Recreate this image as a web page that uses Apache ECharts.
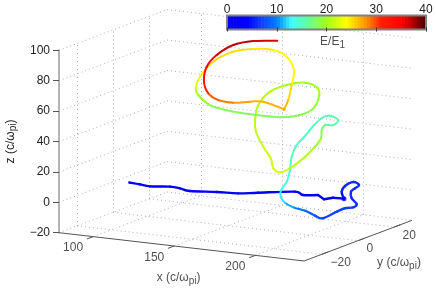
<!DOCTYPE html>
<html><head><meta charset="utf-8">
<style>html,body{margin:0;padding:0;background:#fff}#c{width:436px;height:293px}</style>
<script src="https://cdn.jsdelivr.net/npm/echarts@6/dist/echarts.min.js"></script>
</head><body><div id="c"></div>
<script>
const xTicks=[100,150,200];
const yTicks=[-20,0,20];
const zTicks=[-20,0,20,40,60,80,100];
const cbTicks=[0,10,20,30,40];
const xRange=[79,230], yRange=[-30,30], zRange=[-20,100];
// trajectory: horizontal projected position, height on the z scale (as seen), energy
const trajH=[129.3,140,150,170,180,190,216.7,238,258,294.7,303,318,324,333,344,
341.7,345,353.3,359,355,351,351.7,356.7,353.3,345,336.7,322.7,315,305,293.3,285,280.7,281,286.7,290,291.7,296.7,305,313.3,321.7,330,338.3,333.3,325,321.7,321,315,303.3,290,280,273.3,270.7,263.3,256,255,258.3,270,286.7,305,316.7,319.3,313.3,300,283.3,256.7,230,210,198.3,195.7,200,213.3,233.3,253.3,273.3,286.7,294,291.7,288.3,284,263.3,250,233.3,218.3,208.3,204,206.7,216.7,233.3,253.3,277.3];
const trajV=[13,11.8,10.5,10.3,9.2,7.4,6.8,5.9,6.3,7,4.8,4.8,2,3,2.4,
7,10.7,13.4,11.4,9.2,7,2.6,-1.1,-3.3,-3.9,-6.2,-10.5,-8.8,-5.5,-3.3,-0.3,3.7,8.1,13.6,21.2,30,37.7,43.6,50.2,55.3,57,54.1,50.8,50.8,47.6,42.1,36.6,28.9,22.4,19.7,22.4,29,36.6,46.4,54.1,64,72.8,77.2,78.7,75.7,70.6,61.8,57.4,55.9,57.4,60.1,64,70.6,75,82.6,92.5,99.1,100.9,100.2,95.8,87,77.2,67.3,61.2,66.2,66.2,65.5,67.3,71.7,79.4,89.2,96.9,103.5,106.1,106.3];
const trajE=[3,3,3,3,3,3,3,3,3,3,3,3,3,3,4,
5,6,6,6,6,6,6,6,7,7,7,7,8,9,10,12,12.5,13,13.5,14.5,15,15,15,15,15,15,15.5,15.5,16,18,19,20,21,21.5,22,22,22,21.5,21,21,21,21,20.5,20,20,20,19,18.5,18,18,18,19,20,21,24,25,25.5,25,24.5,24,24,24.5,26,27,26.5,27,28,29,30,32,34,36,37.5,37,35.5];
const cuspPoints=[11,12,13,14,78];
const cmapStops=[[0,'#0000e8'],[4,'#0000ff'],[7,'#1040ff'],[10,'#0080ff'],[13,'#40ffff'],[16,'#60ffa0'],[20,'#a0ff20'],[24,'#ffff00'],[28,'#ff9000'],[31,'#ff2000'],[35,'#ff0000'],[37,'#c00000'],[40,'#400000']];
const cbLevels=64;

function hex(c){return [1,3,5].map(i=>parseInt(c.substr(i,2),16));}
function jet(e){
  for(let i=1;i<cmapStops.length;i++){
    if(e<=cmapStops[i][0]){
      const a=cmapStops[i-1],b=cmapStops[i],t=(e-a[0])/(b[0]-a[0]);
      const A=hex(a[1]),B=hex(b[1]);
      return 'rgb('+A.map((v,k)=>Math.round(v+(B[k]-v)*t)).join(',')+')';
    }
  }
  return cmapStops[cmapStops.length-1][1];
}
// oblique projection of the 3D box onto the plane of the picture
function proj(x,y,z){
  return [59+(x-xRange[0])*1.623+(y-yRange[0])*1.8,
          z-0.1233*(x-xRange[0])+0.446*(y-yRange[0])];
}
const [x0,x1]=xRange,[y0,y1]=yRange,[z0,z1]=zRange;
const seg=(a,b)=>({coords:[a,b]});
const dotted=[];
zTicks.forEach(z=>{dotted.push(seg(proj(x0,y0,z),proj(x0,y1,z)));dotted.push(seg(proj(x0,y1,z),proj(x1,y1,z)));});
yTicks.forEach(y=>{dotted.push(seg(proj(x0,y,z0),proj(x0,y,z1)));dotted.push(seg(proj(x0,y,z0),proj(x1,y,z0)));});
xTicks.forEach(x=>{dotted.push(seg(proj(x,y1,z0),proj(x,y1,z1)));dotted.push(seg(proj(x,y0,z0),proj(x,y1,z0)));});
const solid=[seg(proj(x0,y0,z0),proj(x1,y0,z0)),seg(proj(x1,y0,z0),proj(x1,y1,z0))];
xTicks.forEach(x=>solid.push(seg(proj(x,y0,z0),proj(x,y0-3.5,z0))));
yTicks.forEach(y=>solid.push(seg(proj(x1,y,z0),proj(x1,y+3.5,z0))));
const trajData=trajH.slice(0,-1).map((h,i)=>[h,trajV[i],trajH[i+1],trajV[i+1],(trajE[i]+trajE[i+1])/2]);
function tangent(api,i){
  if(cuspPoints.includes(i))return [0,0];
  const a=api.coord([trajH[Math.max(i-1,0)],trajV[Math.max(i-1,0)]]);
  const b=api.coord([trajH[Math.min(i+1,trajH.length-1)],trajV[Math.min(i+1,trajH.length-1)]]);
  return [(b[0]-a[0])/6,(b[1]-a[1])/6];
}
const font={fontFamily:'Liberation Sans, Arial, sans-serif',fontSize:12,color:'#222'};
const rich={sub:{fontFamily:font.fontFamily,fontSize:10,color:'#222',padding:[7,0,0,0]}};
const minus=v=>String(v).replace('-','\u2212');
const textPts=(arr,lab)=>({type:'scatter',symbolSize:0,clip:false,silent:true,z:6,
  data:arr.map(p=>({value:p.pos,name:p.text})),
  label:Object.assign({show:true,position:'inside',formatter:'{b}',rich:rich},font,lab)});
const cb=[];
for(let i=0;i<cbLevels;i++)cb.push([i*40/cbLevels,(i+1)*40/cbLevels]);

const chart=echarts.init(document.getElementById('c'),null,{renderer:'canvas'});
chart.setOption({
  animation:false,
  backgroundColor:'#fff',
  grid:[
    {left:0,width:436,top:50.3,height:182.4,containLabel:false,outerBoundsMode:'none'},
    {left:227,width:199,top:15.5,height:14,show:true,borderColor:'#808080',borderWidth:2,backgroundColor:'transparent',z:8,outerBoundsMode:'none'}
  ],
  xAxis:[
    {gridIndex:0,type:'value',min:0,max:436,show:false},
    {gridIndex:1,type:'value',min:0,max:40,interval:10,position:'top',z:9,
     axisLine:{show:false},axisTick:{show:true,inside:true,length:2,lineStyle:{color:'#333'}},splitLine:{show:false},
     axisLabel:Object.assign({margin:0,formatter:v=>String(v),hideOverlap:false},font)},
    {gridIndex:1,type:'value',min:0,max:40,interval:10,position:'bottom',z:9,
     axisLine:{show:false},axisTick:{show:true,inside:true,length:2,lineStyle:{color:'#333'}},splitLine:{show:false},axisLabel:{show:false}}
  ],
  yAxis:[
    {gridIndex:0,type:'value',min:z0,max:z1,interval:20,position:'left',offset:-59,
     axisLine:{show:true,onZero:false,lineStyle:{color:'#b4b4b4',width:2}},
     axisTick:{show:true,length:6,lineStyle:{color:'#555'}},
     splitLine:{show:false},
     axisLabel:Object.assign({margin:9,formatter:minus},font),
     name:'z (c/\u03c9{sub|pi})',nameLocation:'middle',nameRotate:90,nameGap:40,
     nameTextStyle:Object.assign({rich:rich},font)},
    {gridIndex:1,type:'value',min:0,max:1,show:false}
  ],
  series:[
    {type:'lines',coordinateSystem:'cartesian2d',clip:false,silent:true,z:1,xAxisIndex:0,yAxisIndex:0,
     lineStyle:{color:'#b0b0b0',width:1,type:[1,3],opacity:1},data:dotted},
    {type:'lines',coordinateSystem:'cartesian2d',clip:false,silent:true,z:2,xAxisIndex:0,yAxisIndex:0,
     lineStyle:{color:'#555',width:1,opacity:1},data:solid},
    {type:'custom',xAxisIndex:0,yAxisIndex:0,clip:false,silent:true,z:4,data:trajData,encode:{x:[0,2],y:[1,3]},
     renderItem:(p,api)=>{
       const i=p.dataIndex;
       const a=api.coord([api.value(0),api.value(1)]),b=api.coord([api.value(2),api.value(3)]);
       const ta=tangent(api,i),tb=tangent(api,i+1),e=api.value(4);
       return {type:'bezierCurve',
         shape:{x1:a[0],y1:a[1],x2:b[0],y2:b[1],cpx1:a[0]+ta[0],cpy1:a[1]+ta[1],cpx2:b[0]-tb[0],cpy2:b[1]-tb[1]},
         style:{fill:null,stroke:jet(e),lineWidth:e<9?2.4:2,lineCap:'round',lineJoin:'round'}};
     }},
    {type:'scatter',clip:false,silent:true,z:5,xAxisIndex:0,yAxisIndex:0,symbolSize:5,
     itemStyle:{color:jet(trajE[14])},data:[[trajH[14],trajV[14]]]},
    {type:'scatter',clip:false,silent:true,z:5,xAxisIndex:0,yAxisIndex:0,symbolSize:3.5,
     itemStyle:{color:jet(trajE[78])},data:[[trajH[78],trajV[78]]]},
    Object.assign(textPts(xTicks.map(x=>({pos:proj(x,y0,z0),text:String(x)})),{offset:[-20,11.4],align:'center',verticalAlign:'middle'}),{xAxisIndex:0,yAxisIndex:0}),
    Object.assign(textPts(yTicks.map(y=>({pos:proj(x1,y,z0),text:minus(y)})),{offset:[8.5,8.5],align:'left',verticalAlign:'middle'}),{xAxisIndex:0,yAxisIndex:0}),
    Object.assign(textPts([{pos:proj((x0+x1)/2,y0,z0),text:'x (c/\u03c9'}],{offset:[-3,31],align:'center',verticalAlign:'middle',formatter:()=>'x (c/\u03c9{sub|pi})'}),{xAxisIndex:0,yAxisIndex:0}),
    Object.assign(textPts([{pos:proj(x1,0,z0),text:'y (c/\u03c9'}],{offset:[19,22.5],align:'left',verticalAlign:'middle',formatter:()=>'y (c/\u03c9{sub|pi})'}),{xAxisIndex:0,yAxisIndex:0}),
    {type:'custom',xAxisIndex:1,yAxisIndex:1,z:7,silent:true,clip:false,data:cb,encode:{x:[0,1]},
     renderItem:(p,api)=>{
       const a=api.coord([api.value(0),1]),b=api.coord([api.value(1),0]);
       return {type:'rect',shape:{x:a[0],y:a[1],width:b[0]-a[0]+0.6,height:b[1]-a[1]},
               style:{fill:jet((api.value(0)+api.value(1))/2)}};
     }},
    Object.assign(textPts([{pos:[20,0],text:'E/E'}],{offset:[6,12],align:'center',verticalAlign:'middle',formatter:()=>'E/E{sub|1}'}),{xAxisIndex:1,yAxisIndex:1})
  ]
});
</script></body></html>
